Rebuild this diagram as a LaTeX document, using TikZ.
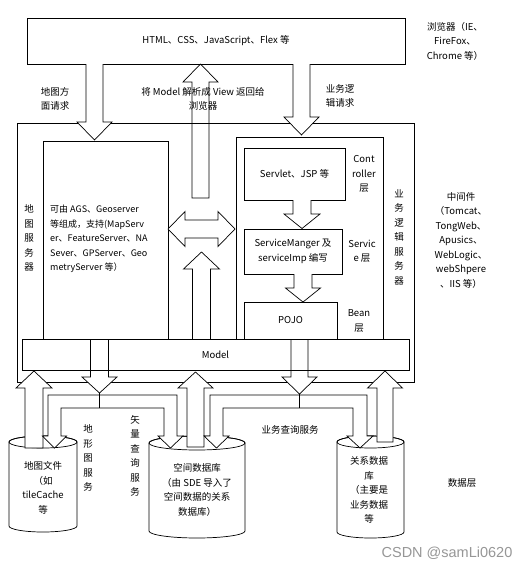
\documentclass[tikz,border=0pt]{standalone}
\usepackage{fontspec}
\setmainfont{Noto Sans CJK SC}
\newfontfamily\wmfont{Liberation Sans}
\definecolor{wmgray}{RGB}{150,150,150}
\tikzset{
  box/.style={draw, line width=0.7pt, inner sep=0pt},
  lbl/.style={align=center, inner sep=0pt},
  blk/.style={draw, fill=white, line width=0.7pt},
}
% block arrow: centre x, shaft end y, head base y, tip y, half shaft, half head
\newcommand{\blockarr}[6]{\draw[blk] ({#1-#5},#2) -- ({#1-#5},#3) -- ({#1-#6},#3) -- (#1,#4) -- ({#1+#6},#3) -- ({#1+#5},#3) -- ({#1+#5},#2);}
\newcommand{\blockarrc}[6]{\draw[blk] ({#1-#5},#2) -- ({#1-#5},#3) -- ({#1-#6},#3) -- (#1,#4) -- ({#1+#6},#3) -- ({#1+#5},#3) -- ({#1+#5},#2) -- cycle;}
% database: centre x, top y, bottom y, x radius, y radius
\newcommand{\dbcyl}[5]{%
  \draw[blk] ({#1-#4},#2) -- ({#1-#4},#3) arc[start angle=180, end angle=360, x radius=#4pt, y radius=#5pt] -- ({#1+#4},#2) arc[start angle=0, end angle=180, x radius=#4pt, y radius=#5pt] -- cycle;
  \draw[line width=0.7pt] (#1,#2) ellipse [x radius=#4pt, y radius=#5pt];}

\begin{document}
\begin{tikzpicture}[x=1pt, y=-1pt, font=\fontsize{9.5}{14.5}\selectfont]
  \useasboundingbox (0,0) rectangle (527,568);
  \node[box, minimum width=378pt, minimum height=46pt] (browser) at (216,41) {HTML、CSS、JavaScript、Flex 等};
  \node[box, minimum width=397pt, minimum height=259pt] (middle) at (215.5,252.5) {};
  \node[box, minimum width=125pt, minimum height=198pt] (mapbox) at (105.5,240) {};
  \node[box, minimum width=147pt, minimum height=202pt] (bizbox) at (309.5,238) {};
  \node[box, minimum width=101pt, minimum height=52pt] (servlet) at (294.5,174) {Servlet、JSP 等};
  \node[box, minimum width=98pt, minimum height=45pt, align=center] (svcmgr) at (293,251.5) {ServiceManger 及\\serviceImp 编写};
  \node[box, minimum width=93pt, minimum height=37pt] (pojo) at (290.5,320.5) {POJO};
  % databases
  \dbcyl{43}{442}{526}{34}{6}
  \dbcyl{197}{443}{531}{48}{7}
  \dbcyl{370.5}{442}{532}{33.5}{6}
  % block arrows
  \blockarr{94.5}{64}{122}{140}{8.5}{17.5}
  \blockarr{301.5}{64}{117}{135}{8.5}{17.5}
  \blockarr{302}{200}{214}{228.5}{9}{18}
  \blockarr{303}{274}{288}{302}{9}{17.5}
  \blockarr{201.5}{339}{269}{252}{9}{18}
  \blockarr{99.5}{339}{377}{393}{9}{17.5}
  \blockarr{299.5}{339}{377}{394}{8.5}{17.5}
  \blockarrc{34}{448}{388}{371}{9}{18}
  \blockarrc{195.5}{447}{388}{372}{8.5}{17.5}
  \blockarrc{385}{442}{388}{371}{8}{17.5}
  \draw[line width=0.7pt] (192,198) -- (192,82) -- (183,82) -- (200.5,64) -- (218,82) -- (209,82) -- (209,198) -- cycle;
  \draw[blk] (168,229) -- (185,211.5) -- (185,220) -- (218,220) -- (218,211.5) -- (235,229) -- (218,246.5) -- (218,238) -- (185,238) -- (185,246.5) -- cycle;
  \node[box, minimum width=387pt, minimum height=31pt] (model) at (215.5,354.5) {Model};
  % service pipes
  \draw[blk] (48,436) -- (48,395) -- (177,395) -- (177,436) -- (183,436) -- (170.5,448) -- (158,436) -- (164,436) -- (164,408) -- (61,408) -- (61,436) -- (66.5,436) -- (54.5,448) -- (42.5,436) -- cycle;
  \draw[blk] (210,436) -- (210,395) -- (367,395) -- (367,436) -- (373,436) -- (360,448) -- (347,436) -- (353,436) -- (353,408) -- (223,408) -- (223,436) -- (229,436) -- (216.5,448) -- (204,436) -- cycle;
  \coordinate (ltip) at (99.5,393);
  \coordinate (rtip) at (299.5,394);
  \draw[line width=0.7pt] (ltip) -- (99.5,408);
  \draw[line width=1pt] (rtip) -- (299.5,408);
  % labels
  \node[lbl] (browserlbl) at (455,41) {浏览器（IE、\\FireFox、\\Chrome 等）};
  \node[lbl] (mapreq) at (55,99) {地图方\\面请求};
  \node[lbl] (viewlbl) at (203,99) {将 Model 解析成 View 返回给\\浏览器};
  \node[lbl] (bizreq) at (340,96) {业务逻\\辑请求};
  \node[lbl] (mapsrv) at (29,238) {地\\图\\服\\务\\器};
  \node[lbl, align=left, anchor=west, font=\fontsize{9}{14.5}\selectfont] (maptext) at (50,239) {可由 AGS、Geoserver\\等组成，支持(MapServ\\er、FeatureServer、NA\\Sever、GPServer、Geo\\metryServer 等）};
  \node[lbl] (ctrl) at (364,174) {Cont\\roller\\层};
  \node[lbl] (svc) at (362,251) {Servic\\e 层};
  \node[lbl] (bean) at (359,321) {Bean\\层};
  \node[lbl] (bizsrv) at (399,237) {业\\务\\逻\\辑\\服\\务\\器};
  \node[lbl] (midware) at (461,240) {中间件\\（Tomcat、\\TongWeb、\\Apusics、\\WebLogic、\\webShpere\\、IIS 等）};
  \node[lbl] (tilefile) at (43,488) {地图文件\\（如\\tileCache\\等};
  \node[lbl] (spatialdb) at (197,490) {空间数据库\\（由 SDE 导入了\\空间数据的关系\\数据库）};
  \node[lbl] (reldb) at (369,490) {关系数据\\库\\（主要是\\业务数据\\等};
  \node[lbl] (topo) at (88,458) {地\\形\\图\\服\\务};
  \node[lbl] (vecq) at (135,456) {矢\\量\\查\\询\\服\\务};
  \node[lbl] (bizq) at (290,430) {业务查询服务};
  \node[lbl] (datalayer) at (462,483) {数据层};
  \node[lbl, text=wmgray, font=\wmfont\fontsize{14.5}{14.5}\selectfont] (wm) at (447,553) {CSDN @samLi0620};
\end{tikzpicture}
\end{document}
